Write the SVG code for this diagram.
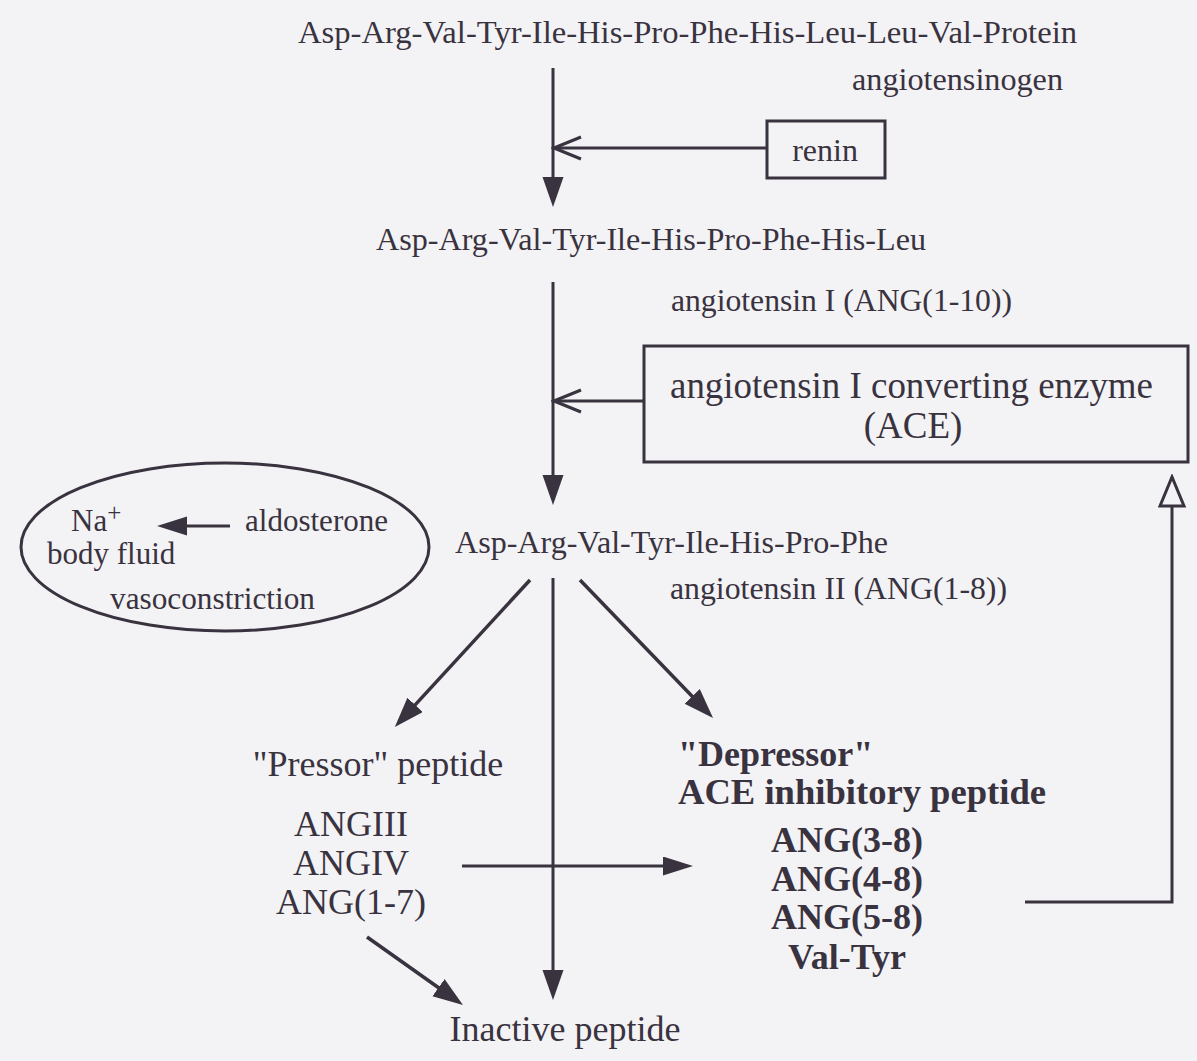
<svg xmlns="http://www.w3.org/2000/svg" width="1197" height="1061" viewBox="0 0 1197 1061">
<style>
  text { font-family: "Liberation Serif", "Times New Roman", serif; fill: #39323f; }
  .t32 { font-size: 32px; }
  .t31 { font-size: 31px; }
  .ace { font-size: 37px; }
  .pep { font-size: 36px; }
  .bold { font-size: 36px; font-weight: bold; }
  .ln { stroke: #39323f; stroke-width: 3; fill: none; }
  .dg { stroke: #39323f; stroke-width: 3.5; fill: none; }
  .box { stroke: #39323f; stroke-width: 3; fill: none; }
</style>
<defs>
  <marker id="fill" markerUnits="userSpaceOnUse" markerWidth="32" markerHeight="22" refX="20" refY="10.5" orient="auto">
    <path d="M0,0 L30,10.5 L0,21 z" fill="#39323f"/>
  </marker>
  <marker id="fillS" markerUnits="userSpaceOnUse" markerWidth="32" markerHeight="20" refX="20" refY="9.5" orient="auto">
    <path d="M0,0 L30,9.5 L0,19 z" fill="#39323f"/>
  </marker>
  <marker id="open" markerUnits="userSpaceOnUse" markerWidth="32" markerHeight="28" refX="29" refY="13" orient="auto">
    <path d="M2,2 L29,13 L2,24" fill="none" stroke="#39323f" stroke-width="3"/>
  </marker>
  <marker id="tri" markerUnits="userSpaceOnUse" markerWidth="34" markerHeight="30" refX="31" refY="14" orient="auto">
    <path d="M2,2 L31,14 L2,26 z" fill="#f3f2f5" stroke="#39323f" stroke-width="3"/>
  </marker>
</defs>
<rect width="1197" height="1061" fill="#f3f2f5"/>

<g id="angiotensinogen">
  <text class="t32" x="298" y="43" textLength="779" lengthAdjust="spacingAndGlyphs">Asp-Arg-Val-Tyr-Ile-His-Pro-Phe-His-Leu-Leu-Val-Protein</text>
  <text class="t32" x="852" y="90" textLength="211" lengthAdjust="spacingAndGlyphs">angiotensinogen</text>
</g>

<g id="renin">
  <rect class="box" x="767" y="121" width="118" height="57"/>
  <text class="t32" x="825" y="161" text-anchor="middle">renin</text>
</g>

<g id="angiotensin-I">
  <text class="t32" x="376" y="250" textLength="550" lengthAdjust="spacingAndGlyphs">Asp-Arg-Val-Tyr-Ile-His-Pro-Phe-His-Leu</text>
  <text class="t32" x="671" y="311" textLength="341" lengthAdjust="spacingAndGlyphs">angiotensin I (ANG(1-10))</text>
</g>

<g id="ace">
  <rect class="box" x="644" y="346" width="544" height="116"/>
  <text class="ace" x="670" y="398" textLength="483" lengthAdjust="spacingAndGlyphs">angiotensin I converting enzyme</text>
  <text class="ace" x="913" y="438" text-anchor="middle">(ACE)</text>
</g>

<g id="effects">
  <ellipse class="box" cx="225" cy="547" rx="204" ry="84"/>
  <text class="t31" x="71" y="531">Na<tspan font-size="25" dy="-10">+</tspan></text>
  <line class="ln" x1="230" y1="526" x2="167" y2="526" marker-end="url(#fillS)"/>
  <text class="t31" x="245" y="531" textLength="143" lengthAdjust="spacingAndGlyphs">aldosterone</text>
  <text class="t31" x="47" y="564">body fluid</text>
  <text class="t31" x="110" y="609" textLength="205" lengthAdjust="spacingAndGlyphs">vasoconstriction</text>
</g>

<g id="angiotensin-II">
  <text class="t32" x="455" y="553" textLength="433" lengthAdjust="spacingAndGlyphs">Asp-Arg-Val-Tyr-Ile-His-Pro-Phe</text>
  <text class="t32" x="670" y="599" textLength="337" lengthAdjust="spacingAndGlyphs">angiotensin II (ANG(1-8))</text>
</g>

<g id="pressor">
  <text class="pep" x="378" y="776" text-anchor="middle">"Pressor" peptide</text>
  <text class="pep" x="351" y="836" text-anchor="middle">ANGIII</text>
  <text class="pep" x="351" y="875" text-anchor="middle">ANGIV</text>
  <text class="pep" x="351" y="914" text-anchor="middle">ANG(1-7)</text>
</g>

<g id="depressor">
  <text class="bold" x="678" y="766">"Depressor"</text>
  <text class="bold" x="678" y="804" textLength="368" lengthAdjust="spacingAndGlyphs">ACE inhibitory peptide</text>
  <text class="bold" x="847" y="852" text-anchor="middle">ANG(3-8)</text>
  <text class="bold" x="847" y="891" text-anchor="middle">ANG(4-8)</text>
  <text class="bold" x="847" y="929" text-anchor="middle">ANG(5-8)</text>
  <text class="bold" x="847" y="969" text-anchor="middle">Val-Tyr</text>
</g>

<g id="inactive">
  <text class="pep" x="565" y="1041" text-anchor="middle">Inactive peptide</text>
</g>

<g id="connectors">
  <line class="ln" x1="553" y1="68" x2="553" y2="197" marker-end="url(#fill)"/>
  <line class="ln" x1="767" y1="148" x2="554" y2="148" marker-end="url(#open)"/>
  <line class="ln" x1="553" y1="282" x2="553" y2="495" marker-end="url(#fill)"/>
  <line class="ln" x1="644" y1="401" x2="554" y2="401" marker-end="url(#open)"/>
  <line class="dg" x1="530" y1="580" x2="401.6" y2="719.6" marker-end="url(#fill)"/>
  <line class="ln" x1="553" y1="578" x2="553" y2="990" marker-end="url(#fill)"/>
  <line class="dg" x1="580" y1="580" x2="706.1" y2="710.8" marker-end="url(#fill)"/>
  <line class="ln" x1="462" y1="866" x2="683" y2="866" marker-end="url(#fillS)"/>
  <line class="dg" x1="367" y1="937" x2="454.8" y2="999.2" marker-end="url(#fill)"/>
  <polyline class="ln" points="1025,902 1172,902 1172,477" marker-end="url(#tri)"/>
</g>
</svg>
